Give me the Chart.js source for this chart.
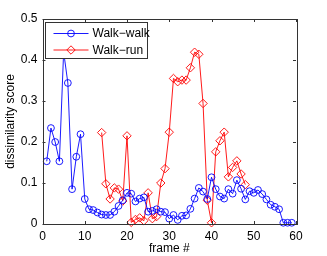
<!DOCTYPE html>
<html>
<head>
<meta charset="utf-8">
<script src="https://cdn.jsdelivr.net/npm/chart.js@4"></script>
<style>
  body { margin: 0; background: #fff; }
  canvas { display: block; }
</style>
</head>
<body>
<canvas id="chart" width="327" height="256"></canvas>
<script>
// Walk-walk starts at frame 1, Walk-run at frame 14
var walkWalkStart = 1;
var walkWalk = [0.153, 0.234, 0.2, 0.153, 0.42, 0.344, 0.085, 0.164, 0.219, 0.061,
  0.036, 0.034, 0.028, 0.023, 0.022, 0.022, 0.03, 0.044, 0.058, 0.076,
  0.074, 0.055, 0.062, 0.065, 0.03, 0.032, 0.036, 0.03, 0.029, 0.013,
  0.022, 0.01, 0.02, 0.021, 0.037, 0.062, 0.088, 0.079, 0.061, 0.114,
  0.085, 0.067, 0.062, 0.085, 0.074, 0.107, 0.086, 0.06, 0.08, 0.076,
  0.083, 0.073, 0.06, 0.047, 0.042, 0.036, 0.003, 0.003, 0.003];

var walkRunStart = 14;
var walkRun = [0.223, 0.098, 0.061, 0.088, 0.085, 0.056, 0.215, 0.004, 0.011, 0.015,
  0.008, 0.076, 0.013, 0.018, 0.1, 0.135, 0.224, 0.355, 0.347, 0.351,
  0.351, 0.381, 0.419, 0.414, 0.294, 0.058, 0.003, 0.176, 0.203, 0.224,
  0.115, 0.138, 0.154, 0.122, 0.096];

var seriesNames = ["Walk\u2212walk", "Walk\u2212run"];
var xTicks = [0, 10, 20, 30, 40, 50, 60];
var yTicks = [0, 0.1, 0.2, 0.3, 0.4, 0.5];

function toPoints(start, vals) {
  return vals.map(function (v, i) { return { x: start + i, y: v }; });
}

var FONT = "'Liberation Sans', Arial, sans-serif";

// box around the axes with ticks pointing inward, MATLAB style
var boxPlugin = {
  id: 'box',
  afterDatasetsDraw: function (chart) {
    var ctx = chart.ctx, a = chart.chartArea;
    var xs = chart.scales.x, ys = chart.scales.y;
    var tl = 3;
    ctx.save();
    ctx.strokeStyle = '#333';
    ctx.lineWidth = 1;
    ctx.strokeRect(Math.round(a.left) + 0.5, Math.round(a.top) + 0.5,
      Math.round(a.right - a.left), Math.round(a.bottom - a.top));
    ctx.beginPath();
    xTicks.forEach(function (t) {
      var px = Math.round(xs.getPixelForValue(t)) + 0.5;
      ctx.moveTo(px, a.bottom); ctx.lineTo(px, a.bottom - tl);
      ctx.moveTo(px, a.top); ctx.lineTo(px, a.top + tl);
    });
    yTicks.forEach(function (t) {
      var py = Math.round(ys.getPixelForValue(t)) + 0.5;
      ctx.moveTo(a.left, py); ctx.lineTo(a.left + tl, py);
      ctx.moveTo(a.right, py); ctx.lineTo(a.right - tl, py);
    });
    ctx.stroke();

    // legend box in the top-left corner
    var lx = 45.5, ly = 22.5, lw = 102, lh = 36;
    ctx.fillStyle = '#fff';
    ctx.fillRect(lx, ly, lw, lh);
    ctx.strokeRect(lx, ly, lw, lh);
    chart.data.datasets.forEach(function (ds, i) {
      var cy = ly + 11 + i * 16.5;
      ctx.strokeStyle = ds.borderColor;
      ctx.lineWidth = 0.9;
      ctx.beginPath();
      ctx.moveTo(lx + 8, cy); ctx.lineTo(lx + 43, cy);
      ctx.stroke();
      ctx.fillStyle = 'rgba(0,0,0,0)';
      Chart.helpers.drawPoint(ctx, {
        pointStyle: ds.pointStyle, radius: ds.pointRadius, borderWidth: 0.9, rotation: 0
      }, lx + 25.5, cy);
      ctx.fillStyle = '#000';
      ctx.font = '12px ' + FONT;
      ctx.textBaseline = 'middle';
      ctx.textAlign = 'left';
      ctx.fillText(ds.label, lx + 47, cy + 0.5);
    });
    ctx.restore();
  }
};

new Chart(document.getElementById("chart"), {
  type: 'line',
  data: {
    datasets: [
      {
        label: seriesNames[0],
        data: toPoints(walkWalkStart, walkWalk),
        borderColor: '#0000ff',
        backgroundColor: 'transparent',
        borderWidth: 0.9,
        pointStyle: 'circle',
        pointRadius: 3.4,
        pointBorderWidth: 0.9,
        pointBackgroundColor: 'transparent',
        clip: false
      },
      {
        label: seriesNames[1],
        data: toPoints(walkRunStart, walkRun),
        borderColor: '#ff0000',
        backgroundColor: 'transparent',
        borderWidth: 0.9,
        pointStyle: 'rectRot',
        pointRadius: 4.2,
        pointBorderWidth: 0.9,
        pointBackgroundColor: 'transparent',
        clip: false
      }
    ]
  },
  options: {
    responsive: false,
    animation: false,
    devicePixelRatio: 1,
    layout: { padding: { top: 19, right: 31, left: 0, bottom: 0 } },
    plugins: {
      legend: { display: false },
      tooltip: { enabled: false }
    },
    scales: {
      x: {
        type: 'linear',
        min: 0, max: 60,
        afterFit: function (s) { s.height = 32; },
        afterBuildTicks: function (s) { s.ticks = xTicks.map(function (v) { return { value: v }; }); },
        grid: { display: false, drawTicks: false },
        border: { display: false },
        ticks: { color: '#000', padding: 5, font: { family: FONT, size: 12 }, maxRotation: 0 },
        title: { display: true, text: 'frame #', color: '#000', padding: { top: 0, bottom: 0 }, font: { family: FONT, size: 12 } }
      },
      y: {
        min: 0, max: 0.5,
        afterFit: function (s) { s.width = 42.5; },
        afterBuildTicks: function (s) { s.ticks = yTicks.map(function (v) { return { value: v }; }); },
        grid: { display: false, drawTicks: false },
        border: { display: false },
        ticks: { color: '#000', padding: 5, font: { family: FONT, size: 12 } },
        title: { display: true, text: 'dissimilarity score', color: '#000', padding: { top: 3, bottom: 0 }, font: { family: FONT, size: 12 } }
      }
    }
  },
  plugins: [boxPlugin]
});
</script>
</body>
</html>
